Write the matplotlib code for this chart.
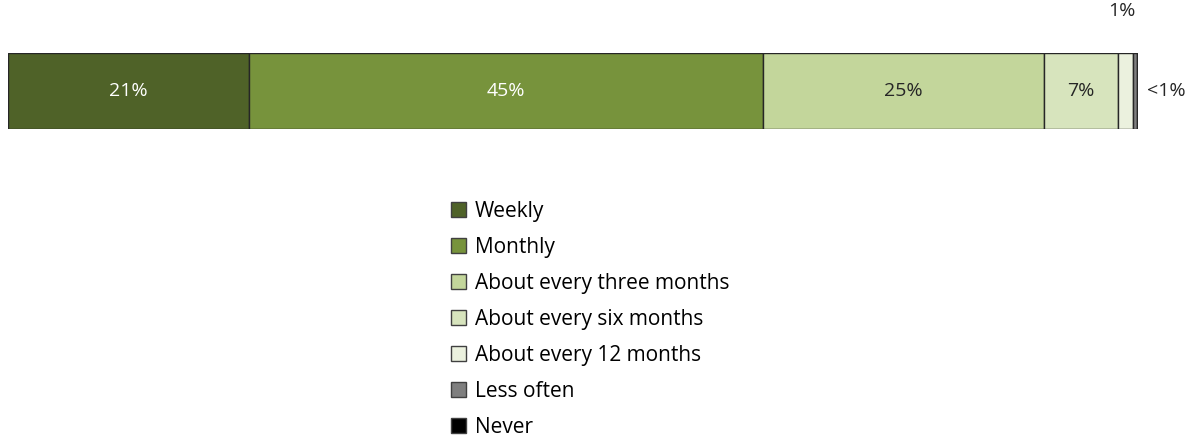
import matplotlib.pyplot as plt
from matplotlib.patches import Patch

categories = ["Weekly", "Monthly", "About every three months", "About every six months",
              "About every 12 months", "Less often", "Never"]
values = [21.3, 45.5, 24.9, 6.5, 1.4, 0.35, 0.05]
labels = ["21%", "45%", "25%", "7%", "1%", "<1%", ""]
colors = ["#4F6228", "#77933C", "#C3D69B", "#D7E4BD", "#EBF1DE", "#7F7F7F", "#000000"]
text_colors = ["white", "white", "#262626", "#262626", "#262626", "#262626", "#262626"]

plt.rcParams["font.family"] = ["Open Sans", "DejaVu Sans"]

fig = plt.figure(figsize=(12.02, 4.41), dpi=100)
ax = fig.add_axes([8 / 1202, 1 - 129 / 441, 1130 / 1202, 76 / 441])

left = 0
for i, (cat, val) in enumerate(zip(categories, values)):
    ax.barh(0, val, left=left, height=1, color=colors[i], edgecolor="#262626", linewidth=1)
    center = left + val / 2
    if i < 4:
        ax.text(center, 0, labels[i], ha="center", va="center", fontsize=14, color=text_colors[i])
    elif i == 4:
        ax.text(center - 0.3, 1.05, labels[i], ha="center", va="center", fontsize=14,
                color="#262626", clip_on=False)
    elif i == 5:
        ax.text(100.8, 0, labels[i], ha="left", va="center", fontsize=14, color="#262626")
    left += val

ax.set_xlim(0, 100)
ax.set_ylim(-0.5, 0.5)
ax.axis("off")

handles = [Patch(facecolor=c, edgecolor="#404040", linewidth=1) for c in colors]
fig.legend(handles, categories, loc="upper left", bbox_to_anchor=(451 / 1202, 1 - 201 / 441),
           frameon=False, fontsize=15, handlelength=0.7, handleheight=0.7, handletextpad=0.45,
           labelspacing=0.72, borderpad=0, borderaxespad=0)

fig.savefig("out.png", dpi=100)
